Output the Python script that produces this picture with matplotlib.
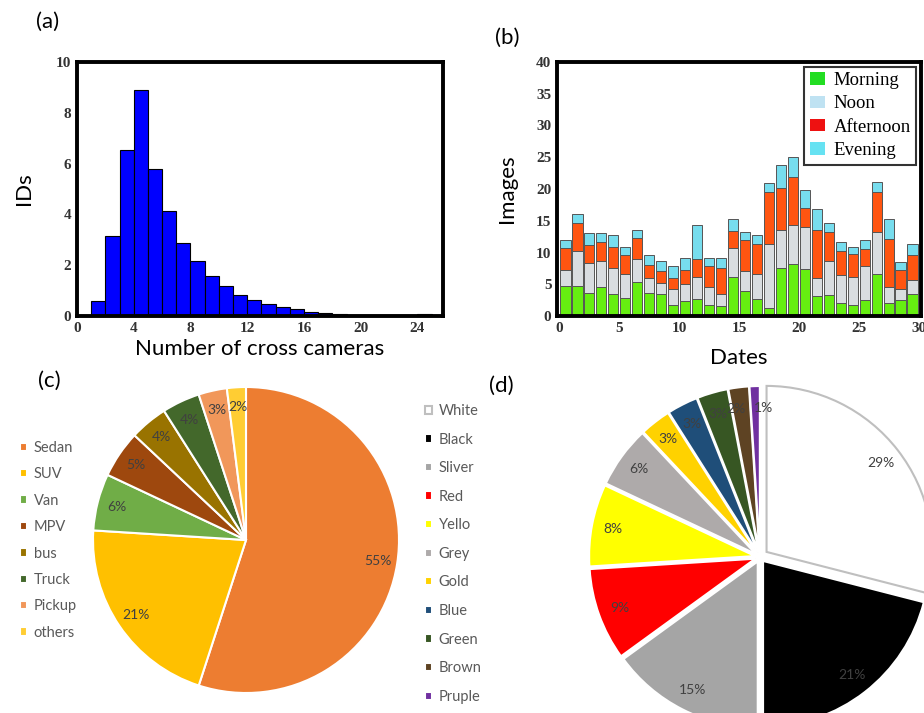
import numpy as np
import matplotlib.pyplot as plt
from matplotlib.patches import Patch

# (a) number of IDs per count of cross cameras
cam_bins = np.arange(1, 25)
cam_ids = [0.60, 3.13, 6.53, 8.89, 5.79, 4.14, 2.89, 2.18, 1.58, 1.18, 0.83, 0.63,
           0.46, 0.37, 0.26, 0.17, 0.10, 0.08, 0.04, 0.02, 0.01, 0.01, 0.01, 0.07]

# (b) images per date, split by time of day
morning = [4.7, 4.7, 3.7, 4.6, 3.5, 2.8, 5.3, 3.7, 3.4, 1.8, 2.4, 2.7, 1.8, 1.5, 6.2,
           4.0, 2.7, 1.2, 7.5, 8.2, 7.4, 3.1, 3.3, 2.1, 1.8, 2.5, 6.6, 2.0, 2.5, 3.5]
noon = [2.5, 5.5, 4.6, 4.0, 4.0, 3.8, 3.7, 2.3, 1.8, 2.4, 2.7, 3.4, 2.7, 1.9, 4.5,
        3.1, 3.9, 10.1, 6.0, 6.2, 6.6, 2.9, 5.3, 4.3, 4.4, 5.4, 6.7, 2.5, 1.7, 2.2]
afternoon = [3.5, 4.4, 2.9, 3.0, 3.4, 3.0, 3.3, 2.0, 1.9, 1.8, 2.1, 2.9, 3.4, 4.2, 2.7,
             4.9, 4.7, 8.2, 6.7, 7.5, 3.0, 7.6, 4.6, 3.9, 3.6, 2.6, 6.2, 7.7, 3.0, 3.9]
evening = [1.3, 1.5, 1.8, 1.4, 1.8, 1.3, 1.2, 1.6, 1.6, 1.8, 1.9, 5.4, 1.3, 1.5, 1.8,
           1.2, 1.4, 1.4, 3.6, 3.1, 2.8, 3.2, 1.4, 1.4, 1.0, 1.4, 1.6, 3.0, 1.3, 1.8]
periods = ['Morning', 'Noon', 'Afternoon', 'Evening']

# (c) vehicle types
types = ['Sedan', 'SUV', 'Van', 'MPV', 'bus', 'Truck', 'Pickup', 'others']
type_share = [55, 21, 6, 5, 4, 4, 3, 2]

# (d) vehicle colours
colours = ['White', 'Black', 'Sliver', 'Red', 'Yello', 'Grey', 'Gold', 'Blue',
           'Green', 'Brown', 'Pruple']
colour_share = [29, 21, 15, 9, 8, 6, 3, 3, 3, 2, 1]

W, H = 924, 713
fig = plt.figure(figsize=(W / 100, H / 100), dpi=100)


def px_axes(x0, y0, x1, y1):
    return fig.add_axes([x0 / W, 1 - y1 / H, (x1 - x0) / W, (y1 - y0) / H])


sans = 'Lato'


def style_frame(ax):
    for s in ax.spines.values():
        s.set_linewidth(2.8)
        s.set_color('black')
    ax.tick_params(length=0, pad=4)
    for lab in ax.get_xticklabels() + ax.get_yticklabels():
        lab.set_fontproperties('Liberation Serif')
        lab.set_fontweight('bold')
        lab.set_fontsize(11)
        lab.set_color('#333333')


# ---- (a) histogram
ax_a = px_axes(77, 62, 443, 316)
ax_a.bar(cam_bins, cam_ids, width=1, align='edge', color='#0000ff',
         edgecolor='black', linewidth=0.8)
ax_a.set_xlim(0, 25.8)
ax_a.set_ylim(0, 10)
ax_a.set_xticks(range(0, 25, 4))
ax_a.set_yticks(range(0, 11, 2))
style_frame(ax_a)
ax_a.set_xlabel('Number of cross cameras', fontfamily=sans, fontsize=16, labelpad=3)
ax_a.set_ylabel('IDs', fontfamily=sans, fontsize=16, labelpad=16)

# ---- (b) stacked bars per date
ax_b = px_axes(557, 62, 921, 316)
x = np.arange(len(morning)) + 0.5
bar_cols = ['#66ee11', '#d9dde0', '#ff5511', '#77ddee']
bottom = np.zeros(len(morning))
for vals, c in zip([morning, noon, afternoon, evening], bar_cols):
    ax_b.bar(x, vals, bottom=bottom, width=0.86, color=c,
             edgecolor='#555555', linewidth=0.7)
    bottom += np.array(vals)
ax_b.set_xlim(-0.2, 30.2)
ax_b.set_ylim(0, 40)
ax_b.set_xticks(range(0, 31, 5))
ax_b.set_yticks(range(0, 41, 5))
style_frame(ax_b)
ax_b.set_xlabel('Dates', fontfamily=sans, fontsize=16, labelpad=10)
ax_b.set_ylabel('Images', fontfamily=sans, fontsize=16, labelpad=14)
legend_cols = ['#22dd22', '#bfe2f2', '#ee1111', '#66e2f2']
handles = [Patch(facecolor=c, edgecolor='none') for c in legend_cols]
leg = ax_b.legend(handles, periods, loc='upper right', frameon=True, fancybox=False,
                  prop={'family': 'Liberation Serif', 'size': 13.5},
                  handlelength=0.8, handleheight=0.65, handletextpad=0.45,
                  labelspacing=0.33, borderaxespad=0.25, borderpad=0.3)
leg.get_frame().set_edgecolor('black')
leg.get_frame().set_linewidth(1.5)

# ---- (c) vehicle type pie
cx, cy, r, L = 246, 540, 153, 1.25
ax_c = px_axes(cx - L * r, cy - L * r, cx + L * r, cy + L * r)
type_cols = ['#ed7d31', '#ffc000', '#70ad47', '#9e480e', '#997300', '#43682b',
             '#f1975a', '#ffcd33']
wedges_c, _, pct_c = ax_c.pie(type_share, colors=type_cols, startangle=90,
                              counterclock=False, autopct='%d%%', pctdistance=0.87,
                              wedgeprops={'edgecolor': 'white', 'linewidth': 1.5},
                              textprops={'fontfamily': sans, 'fontsize': 10,
                                         'color': '#404040'})
ax_c.set_xlim(-L, L)
ax_c.set_ylim(-L, L)
fig.legend(wedges_c, types, loc='upper left', bbox_to_anchor=(20 / W, 1 - 441 / H),
           frameon=False, prop={'family': sans, 'size': 10.5}, labelcolor='#595959',
           handlelength=0.5, handleheight=0.5, handletextpad=0.45,
           labelspacing=0.85, borderpad=0, borderaxespad=0)

# ---- (d) vehicle colour pie
cx, cy, r = 760, 557, 166
ax_d = px_axes(cx - L * r, cy - L * r, cx + L * r, cy + L * r)
colour_cols = ['#ffffff', '#000000', '#a5a5a5', '#ff0000', '#ffff00', '#aeaaaa',
               '#ffd200', '#1f4e79', '#375623', '#5e4323', '#7030a0']
explode = [0.05] + [0.03] * (len(colour_share) - 1)
wedges_d, _, pct_d = ax_d.pie(colour_share, colors=colour_cols, startangle=90,
                              counterclock=False, autopct='%d%%', pctdistance=0.87,
                              explode=explode,
                              wedgeprops={'edgecolor': 'white', 'linewidth': 1.5},
                              textprops={'fontfamily': sans, 'fontsize': 10,
                                         'color': '#404040'})
wedges_d[0].set_edgecolor('#bfbfbf')
# the two thinnest slices share very little room for their labels
pct_d[-2].set_x(pct_d[-2].get_position()[0] - 0.03)
pct_d[-1].set_x(pct_d[-1].get_position()[0] + 0.05)
ax_d.set_xlim(-L, L)
ax_d.set_ylim(-L, L)
for w in wedges_d:
    w.set_clip_on(False)
fig.legend(wedges_d, colours, loc='upper left', bbox_to_anchor=(425 / W, 1 - 404 / H),
           frameon=False, prop={'family': sans, 'size': 10.5}, labelcolor='#595959',
           handlelength=0.5, handleheight=0.5, handletextpad=0.45,
           labelspacing=1.0, borderpad=0, borderaxespad=0)

# panel letters
for lab, (px, py) in zip(['(a)', '(b)', '(c)', '(d)'],
                         [(48, 22), (507, 38), (49, 381), (501, 386)]):
    fig.text(px / W, 1 - py / H, lab, fontfamily=sans, fontsize=16,
             ha='center', va='center')

fig.savefig('out.png', dpi=100)
